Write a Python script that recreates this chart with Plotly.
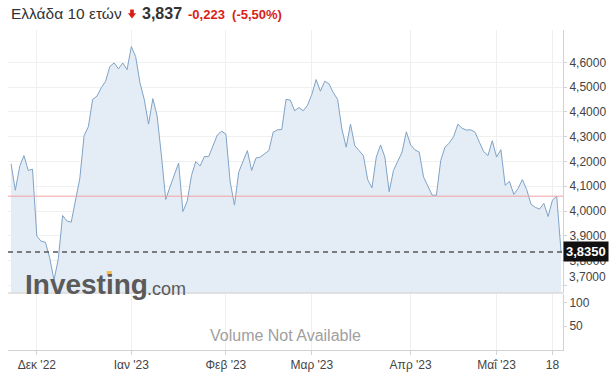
import plotly.graph_objects as go
import pandas as pd

# ---------------- data ----------------
dates = pd.bdate_range("2022-11-23", "2023-05-22")
yields = [
    4.191, 4.084, 4.179, 4.224, 4.164, 4.169, 3.899, 3.878, 3.874, 3.811,
    3.721, 3.807, 3.982, 3.960, 3.955, 4.039, 4.131, 4.304, 4.341, 4.451,
    4.464, 4.498, 4.524, 4.584, 4.598, 4.574, 4.598, 4.571, 4.664, 4.624,
    4.518, 4.451, 4.351, 4.454, 4.384, 4.224, 4.047, 4.098, 4.144, 4.194,
    3.998, 4.040, 4.144, 4.200, 4.182, 4.220, 4.220, 4.262, 4.307, 4.322,
    4.311, 4.118, 4.024, 4.158, 4.204, 4.244, 4.164, 4.214, 4.218, 4.231,
    4.244, 4.318, 4.328, 4.329, 4.451, 4.448, 4.405, 4.418, 4.405, 4.427,
    4.471, 4.531, 4.484, 4.524, 4.514, 4.478, 4.451, 4.331, 4.258, 4.351,
    4.264, 4.244, 4.224, 4.127, 4.094, 4.218, 4.267, 4.218, 4.078, 4.164,
    4.204, 4.238, 4.320, 4.267, 4.247, 4.238, 4.138, 4.104, 4.064, 4.064,
    4.204, 4.258, 4.275, 4.300, 4.351, 4.334, 4.327, 4.328, 4.318, 4.278,
    4.240, 4.224, 4.284, 4.218, 4.248, 4.104, 4.120, 4.067, 4.091, 4.127,
    4.087, 4.028, 4.015, 4.008, 4.031, 3.978, 4.044, 4.060, 3.837,
]
prev_close = 4.060
last_price = 3.835

tick_dates = ["2022-12-01", "2023-01-02", "2023-02-01", "2023-03-01",
              "2023-04-03", "2023-05-01", "2023-05-18"]
tick_labels = ["Δεκ '22", "Ιαν '23", "Φεβ '23", "Μαρ '23", "Απρ '23", "Μαΐ '23", "18"]
price_ticks = [3.7, 3.8, 3.9, 4.0, 4.1, 4.2, 4.3, 4.4, 4.5, 4.6]
volume_ticks = [50, 100]

title_name = "Ελλάδα 10 ετών"
title_last = "3,837"
title_change = "-0,223&nbsp;&nbsp;(-5,50%)"

# ---------------- layout helpers ----------------
W, H = 614, 380
L, R, T, B = 8, 48, 30, 27
PW, PH = W - L - R, H - T - B


def fx(px):
    return (px - L) / PW


def fy(py):
    return (H - B - py) / PH


FONT = "Liberation Sans, Arial, sans-serif"
RED = "#d91e18"


def fmt(v):
    return f"{v:.4f}".replace(".", ",")


price_text = [fmt(v) if v != 3.7 else "" for v in price_ticks]

fig = go.Figure()
fig.add_trace(go.Scatter(
    x=dates, y=yields, mode="lines",
    line=dict(color="#7fa3c6", width=1),
    fill="tozeroy", fillcolor="#e4ecf5",
    xaxis="x", yaxis="y", hoverinfo="skip",
))
# empty volume pane (volume not available)
fig.add_trace(go.Scatter(
    x=[dates[0]], y=[None], mode="lines", xaxis="x", yaxis="y2",
    hoverinfo="skip", showlegend=False,
))

axis_line = "#d2d2d2"
fig.update_layout(
    width=W, height=H,
    margin=dict(l=L, r=R, t=T, b=B, pad=0),
    paper_bgcolor="white", plot_bgcolor="white",
    showlegend=False,
    font=dict(family=FONT, size=12, color="#444"),
    xaxis=dict(
        anchor="y2", type="date",
        range=["2022-11-22 07:00", "2023-05-22 11:00"],
        rangebreaks=[dict(bounds=["sat", "mon"])],
        tickvals=tick_dates, ticktext=tick_labels,
        showgrid=True, gridcolor="#efefef", gridwidth=1,
        showline=True, linecolor=axis_line, linewidth=1,
        ticks="outside", ticklen=4, tickcolor=axis_line,
        tickfont=dict(size=12, color="#444"), zeroline=False,
    ),
    yaxis=dict(
        domain=[fy(295), 1], anchor="x", side="right",
        range=[3.671, 4.731],
        tickvals=price_ticks, ticktext=price_text,
        showgrid=True, gridcolor="#f0f0f0", gridwidth=1,
        showline=True, linecolor=axis_line, linewidth=1,
        ticks="outside", ticklen=3, tickcolor=axis_line,
        tickfont=dict(size=12, color="#444"), zeroline=False,
    ),
    yaxis2=dict(
        domain=[0, fy(296)], anchor="x", side="right",
        range=[0, 119],
        tickvals=volume_ticks, ticktext=[str(v) for v in volume_ticks],
        showgrid=False,
        showline=True, linecolor=axis_line, linewidth=1,
        ticks="outside", ticklen=3, tickcolor=axis_line,
        tickfont=dict(size=12, color="#444"), zeroline=False,
    ),
)

# reference lines
fig.add_shape(type="line", xref="paper", x0=0, x1=1, yref="y",
              y0=prev_close, y1=prev_close, line=dict(color="#f2a3a3", width=1))
fig.add_shape(type="line", xref="paper", x0=0, x1=1, yref="y",
              y0=last_price, y1=last_price,
              line=dict(color="#555555", width=1.5, dash="5px,4px"))
# main pane bottom border
fig.add_shape(type="line", xref="paper", x0=0, x1=1, yref="paper",
              y0=fy(295.5), y1=fy(295.5), line=dict(color="#c8c8c8", width=1))

# down arrow icon in title
ax0, ax1, axm = 128.5, 136.8, 132.65
path = (f"M {fx(130.8)} {fy(9.3)} L {fx(134.5)} {fy(9.3)} L {fx(134.5)} {fy(13.2)} "
        f"L {fx(ax1)} {fy(13.2)} L {fx(axm)} {fy(18.5)} L {fx(ax0)} {fy(13.2)} "
        f"L {fx(130.8)} {fy(13.2)} Z")
fig.add_shape(type="path", xref="paper", yref="paper", path=path,
              fillcolor=RED, line=dict(width=0))

ann = []
ann.append(dict(text=title_name, x=fx(9), y=fy(13.5), xanchor="left", yanchor="middle",
                font=dict(size=15.5, color="#333", family=FONT)))
ann.append(dict(text=f"<b>{title_last}</b>", x=fx(141), y=fy(13.5), xanchor="left",
                yanchor="middle", font=dict(size=16, color="#333", family=FONT)))
ann.append(dict(text=f"<b>{title_change}</b>", x=fx(187), y=fy(14), xanchor="left",
                yanchor="middle", font=dict(size=13, color=RED, family=FONT)))
# last price tag
ann.append(dict(text=f"<b>{fmt(last_price)}</b>", xref="paper", x=1, yref="y", y=last_price,
                xanchor="left", yanchor="middle", showarrow=False,
                bgcolor="#111111", borderpad=2,
                font=dict(size=13, color="white", family=FONT)))
# shifted bottom label
ann.append(dict(text=fmt(3.7), x=1, xshift=4, y=fy(279.5), xanchor="left", yanchor="middle",
                font=dict(size=12, color="#444", family=FONT)))
# watermark
ann.append(dict(text="<b>Investing</b>", x=fx(23), y=fy(287), xanchor="left", yanchor="middle",
                font=dict(size=28, color="#5a5a5a", family=FONT)))
ann.append(dict(text=".com", x=fx(146), y=fy(291), xanchor="left", yanchor="middle",
                font=dict(size=18, color="#5a5a5a", family=FONT)))
# volume message
ann.append(dict(text="Volume Not Available", x=fx(287), y=fy(338), xanchor="center",
                yanchor="middle", font=dict(size=16, color="#a0a0a0", family=FONT)))

for a in ann:
    a.setdefault("xref", "paper")
    a.setdefault("yref", "paper")
    a.setdefault("showarrow", False)
    fig.add_annotation(**a)

# golden dot of the watermark's "i"
fig.add_shape(type="rect", xref="paper", yref="paper",
              x0=fx(107.3), x1=fx(112.3), y0=fy(278.3), y1=fy(273.3),
              fillcolor="#f2bb4a", line=dict(width=0), layer="above")

fig.write_html("out.html")
